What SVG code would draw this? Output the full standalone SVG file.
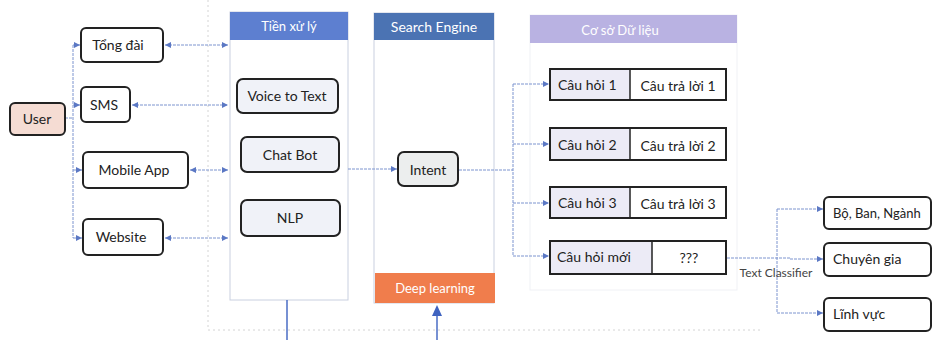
<svg xmlns="http://www.w3.org/2000/svg" width="940" height="340" viewBox="0 0 940 340">
<style>
text{font-family:Lato,"Noto Sans",sans-serif;font-size:14px;fill:#222}
.box{fill:#fff;stroke:#222;stroke-width:2}
.in{fill:#f0f2f8;stroke:#222;stroke-width:2}
.panel{fill:#fff;stroke:#c9d0e0;stroke-width:1}
.hd{fill:#fff;font-size:13px;text-anchor:middle}
.c{text-anchor:middle}
.ln{fill:none;stroke:#7c94cf;stroke-width:1;stroke-dasharray:3 1}
.bnd{fill:none;stroke:#d4d4d4;stroke-width:1;stroke-dasharray:2 3}
</style>
<defs>
<marker id="a" viewBox="0 0 6 6" refX="6" refY="3" markerWidth="6" markerHeight="6" orient="auto-start-reverse"><path d="M0,0L6,3L0,6z" fill="#5b78c4"/></marker>
</defs>
<path class="bnd" d="M208,0V330H760"/>
<g id="panel-tien-xu-ly">
<rect class="panel" x="230" y="12" width="118" height="288"/>
<rect x="230" y="12" width="118" height="28" fill="#5d7fd0"/>
<text class="hd" x="289" y="31">Tiền xử lý</text>
</g>
<g id="panel-search-engine">
<rect class="panel" x="374" y="13" width="120" height="290"/>
<rect x="374" y="13" width="120" height="27" fill="#4b73b3"/>
<text class="hd" x="434" y="32" style="font-size:14px">Search Engine</text>
</g>
<g id="deep-learning">
<rect x="375" y="273" width="120" height="30" fill="#f07d4c"/>
<text class="hd" x="435" y="293">Deep learning</text>
</g>
<g id="panel-co-so-du-lieu">
<rect x="530" y="15" width="207" height="275" fill="#fff" stroke="#f0f1f5" stroke-width="1"/>
<rect x="530" y="15" width="207" height="28" fill="#b9b2e2"/>
<text class="hd" x="620" y="35">Cơ sở Dữ liệu</text>
</g>
<g id="connectors">
<path class="ln" d="M65,118H73M73,45V238"/>
<path class="ln" d="M73,45H80" marker-end="url(#a)"/>
<path class="ln" d="M73,105H80" marker-end="url(#a)"/>
<path class="ln" d="M73,170H82" marker-end="url(#a)"/>
<path class="ln" d="M73,238H82" marker-end="url(#a)"/>
<path class="ln" d="M165,45H228" marker-start="url(#a)" marker-end="url(#a)"/>
<path class="ln" d="M132,105H228" marker-start="url(#a)" marker-end="url(#a)"/>
<path class="ln" d="M190,170H228" marker-start="url(#a)" marker-end="url(#a)"/>
<path class="ln" d="M165,238H228" marker-start="url(#a)" marker-end="url(#a)"/>
<path class="ln" d="M348,169H397" marker-end="url(#a)"/>
<path class="ln" d="M459,170H513M513,84V256"/>
<path class="ln" d="M513,84H549" marker-end="url(#a)"/>
<path class="ln" d="M513,144H549" marker-end="url(#a)"/>
<path class="ln" d="M513,203H549" marker-end="url(#a)"/>
<path class="ln" d="M513,256H549" marker-end="url(#a)"/>
<path class="ln" d="M727,258H790M777,209V313"/>
<path class="ln" d="M777,209H823" marker-end="url(#a)"/>
<path class="ln" d="M790,259H823" marker-end="url(#a)"/>
<path class="ln" d="M777,313H823" marker-end="url(#a)"/>
<path d="M287,300V340" stroke="#4a6cc4" stroke-width="1.5"/>
<path d="M437,340V314" stroke="#4a6cc4" stroke-width="1.5"/>
<path d="M437,305L442,316H432z" fill="#3f63c0"/>
</g>
<text x="776" y="277" class="c" style="font-size:12px;fill:#444">Text Classifier</text>
<g id="user"><rect x="10" y="103" width="55" height="32" rx="5" fill="#f5dcd3" stroke="#222" stroke-width="2"/><text class="c" x="37" y="124">User</text></g>
<g id="tong-dai"><rect class="box" x="81" y="28" width="82" height="34" rx="5"/><text class="c" x="118" y="50">Tổng đài</text></g>
<g id="sms"><rect class="box" x="81" y="87" width="49" height="35" rx="5"/><text x="90" y="110">SMS</text></g>
<g id="mobile-app"><rect class="box" x="83" y="152" width="105" height="36" rx="5"/><text class="c" x="134" y="175">Mobile App</text></g>
<g id="website"><rect class="box" x="83" y="219" width="80" height="36" rx="5"/><text class="c" x="121" y="242">Website</text></g>
<g id="voice-to-text"><rect class="in" x="237" y="79" width="101" height="34" rx="6"/><text class="c" x="287" y="101">Voice to Text</text></g>
<g id="chat-bot"><rect class="in" x="241" y="137" width="98" height="35" rx="6"/><text class="c" x="290" y="160">Chat Bot</text></g>
<g id="nlp"><rect class="in" x="241" y="200" width="99" height="36" rx="6"/><text class="c" x="290" y="223">NLP</text></g>
<g id="intent"><rect x="398" y="152" width="60" height="34" rx="6" fill="#eceeee" stroke="#222" stroke-width="2"/><text class="c" x="428" y="175">Intent</text></g>
<g id="cau-hoi-1"><rect x="550" y="69" width="80" height="31" fill="#ecebf6"/><rect x="550" y="69" width="176" height="31" fill="none" stroke="#222" stroke-width="2"/><path d="M630,69V100" stroke="#222" stroke-width="1.5"/><text x="558" y="90">Câu hỏi 1</text><text class="c" x="678" y="91">Câu trả lời 1</text></g>
<g id="cau-hoi-2"><rect x="550" y="128" width="80" height="32" fill="#ecebf6"/><rect x="550" y="128" width="176" height="32" fill="none" stroke="#222" stroke-width="2"/><path d="M630,128V160" stroke="#222" stroke-width="1.5"/><text x="558" y="150">Câu hỏi 2</text><text class="c" x="678" y="151">Câu trả lời 2</text></g>
<g id="cau-hoi-3"><rect x="550" y="187" width="80" height="31" fill="#ecebf6"/><rect x="550" y="187" width="176" height="31" fill="none" stroke="#222" stroke-width="2"/><path d="M630,187V218" stroke="#222" stroke-width="1.5"/><text x="558" y="208">Câu hỏi 3</text><text class="c" x="678" y="209">Câu trả lời 3</text></g>
<g id="cau-hoi-moi"><rect x="550" y="241" width="102" height="33" fill="#ecebf6"/><rect x="550" y="241" width="176" height="33" fill="none" stroke="#222" stroke-width="2"/><path d="M652,241V274" stroke="#222" stroke-width="1.5"/><text x="557" y="262">Câu hỏi mới</text><text class="c" x="689" y="263">???</text></g>
<g id="bo-ban-nganh"><rect class="box" x="824" y="197" width="107" height="32" rx="5"/><text x="833" y="218" style="font-size:13px">Bộ, Ban, Ngành</text></g>
<g id="chuyen-gia"><rect class="box" x="824" y="243" width="107" height="33" rx="5"/><text x="833" y="264">Chuyên gia</text></g>
<g id="linh-vuc"><rect class="box" x="824" y="298" width="107" height="33" rx="5"/><text x="833" y="319">Lĩnh vực</text></g>
</svg>
